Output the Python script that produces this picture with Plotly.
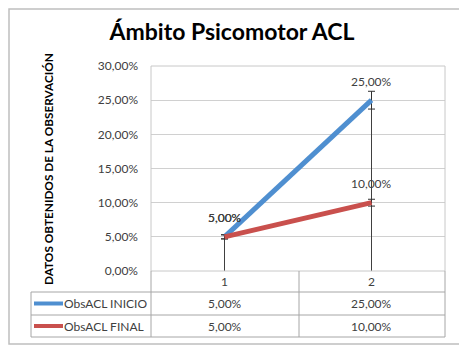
import plotly.graph_objects as go

categories = [1, 2]
cat_labels = ["1", "2"]
series_names = ["ObsACL INICIO", "ObsACL FINAL"]
inicio = [0.05, 0.25]
final = [0.05, 0.10]
err_inicio = [0.003, 0.013]
err_final = [0.003, 0.005]
y_ticks = [0, 0.05, 0.10, 0.15, 0.20, 0.25, 0.30]
colors = ["#4F8FD0", "#C9504D"]

# page offset of the figure (browser body margin)
OX, OY = 8, 8
W, H = 467 - OX, 348 - OY
L, R, T, B = 151, 445, 66, 271  # plot area pixel edges in window coords


def px(x):
    return (x - L) / (R - L)


def py(y):
    return (B - y) / (B - T)


def pct(v):
    return f"{v*100:.2f}%".replace(".", ",")


fig = go.Figure()

# drop lines
for i, c in enumerate(categories):
    top = max(inicio[i], final[i])
    fig.add_trace(go.Scatter(x=[c, c], y=[0, top], mode="lines",
                             line=dict(color="#404040", width=1),
                             showlegend=False, hoverinfo="skip"))

lab_font = dict(size=12, color="#404040", family="Lato")
for name, vals, err, col in [(series_names[0], inicio, err_inicio, colors[0]),
                             (series_names[1], final, err_final, colors[1])]:
    fig.add_trace(go.Scatter(
        x=categories, y=vals, mode="lines", name=name,
        line=dict(color=col, width=5),
        error_y=dict(type="data", array=err, visible=True,
                     color="#303030", thickness=1, width=3.5),
        showlegend=False))
    for c, v in zip(categories, vals):
        fig.add_annotation(x=c, y=v, text=pct(v), showarrow=False,
                           xanchor="center", yanchor="middle",
                           yshift=19, font=lab_font)

shapes = []
line_col = "#A6A6A6"
# outer border
shapes.append(dict(type="rect", xref="paper", yref="paper",
                   x0=px(OX + 1), x1=px(463), y0=py(344), y1=py(OY + 1),
                   line=dict(color="#BFBFBF", width=1.5)))
# plot area border
shapes.append(dict(type="rect", xref="paper", yref="paper",
                   x0=0, x1=1, y0=0, y1=1,
                   line=dict(color="#C8C8C8", width=1)))
# table horizontal lines
rows_y = [271, 292, 315, 337]
for yy in rows_y[1:]:
    shapes.append(dict(type="line", xref="paper", yref="paper",
                       x0=px(31), x1=px(R), y0=py(yy), y1=py(yy),
                       line=dict(color=line_col, width=1)))
# verticals
for xx in [L, 299, R]:
    shapes.append(dict(type="line", xref="paper", yref="paper",
                       x0=px(xx), x1=px(xx), y0=py(271), y1=py(337),
                       line=dict(color=line_col, width=1)))
shapes.append(dict(type="line", xref="paper", yref="paper",
                   x0=px(31), x1=px(31), y0=py(292), y1=py(337),
                   line=dict(color=line_col, width=1)))
# legend keys
for ry, col in [((292 + 315) / 2, colors[0]), ((315 + 337) / 2, colors[1])]:
    shapes.append(dict(type="line", xref="paper", yref="paper",
                       x0=px(34), x1=px(63), y0=py(ry), y1=py(ry),
                       line=dict(color=col, width=4)))
fig.update_layout(shapes=shapes)

tfont = dict(size=12, color="#404040", family="Lato")
# table header row (category labels)
for c, lab in zip(categories, cat_labels):
    fig.add_annotation(x=c, xref="x", y=py((271 + 292) / 2), yref="paper",
                       xanchor="center", yanchor="middle",
                       text=lab, showarrow=False, font=tfont)
# table rows
for ri, (name, vals) in enumerate([(series_names[0], inicio),
                                    (series_names[1], final)]):
    ry = py((rows_y[ri + 1] + rows_y[ri + 2]) / 2)
    fig.add_annotation(x=px(62), xref="paper", y=ry, yref="paper",
                       text=name, showarrow=False, xanchor="left",
                       yanchor="middle", font=tfont)
    for c, v in zip(categories, vals):
        fig.add_annotation(x=c, xref="x", y=ry, yref="paper", text=pct(v),
                           xanchor="center", yanchor="middle",
                           showarrow=False, font=tfont)

# y-axis title
fig.add_annotation(x=px(48), xref="paper", y=py(169), yref="paper",
                   xanchor="center", yanchor="middle",
                   text="<b>DATOS OBTENIDOS DE LA OBSERVACIÓN</b>",
                   textangle=-90, showarrow=False,
                   font=dict(size=11.8, color="#000000", family="Lato"))

fig.update_layout(
    width=W, height=H,
    margin=dict(l=L - OX, r=W - (R - OX), t=T - OY, b=H - (B - OY)),
    paper_bgcolor="white", plot_bgcolor="white",
    separators=",.",
    title=dict(text="<b>Ámbito Psicomotor ACL</b>",
               x=(232 - OX) / W, xanchor="center",
               y=1 - (32 - OY) / H, yanchor="middle",
               font=dict(size=23, color="#000000", family="Lato")),
    xaxis=dict(range=[0.5, 2.5], showticklabels=False, showgrid=False,
               zeroline=False, showline=False, fixedrange=True),
    yaxis=dict(range=[0, 0.30], tickvals=y_ticks, tickformat=".2%",
               showgrid=True, gridcolor="#D0D0D0", gridwidth=1,
               zeroline=False, showline=False, ticks="",
               ticklabelstandoff=12,
               tickfont=dict(size=12, color="#404040", family="Lato")),
    showlegend=False,
)

fig.write_html("out.html")
